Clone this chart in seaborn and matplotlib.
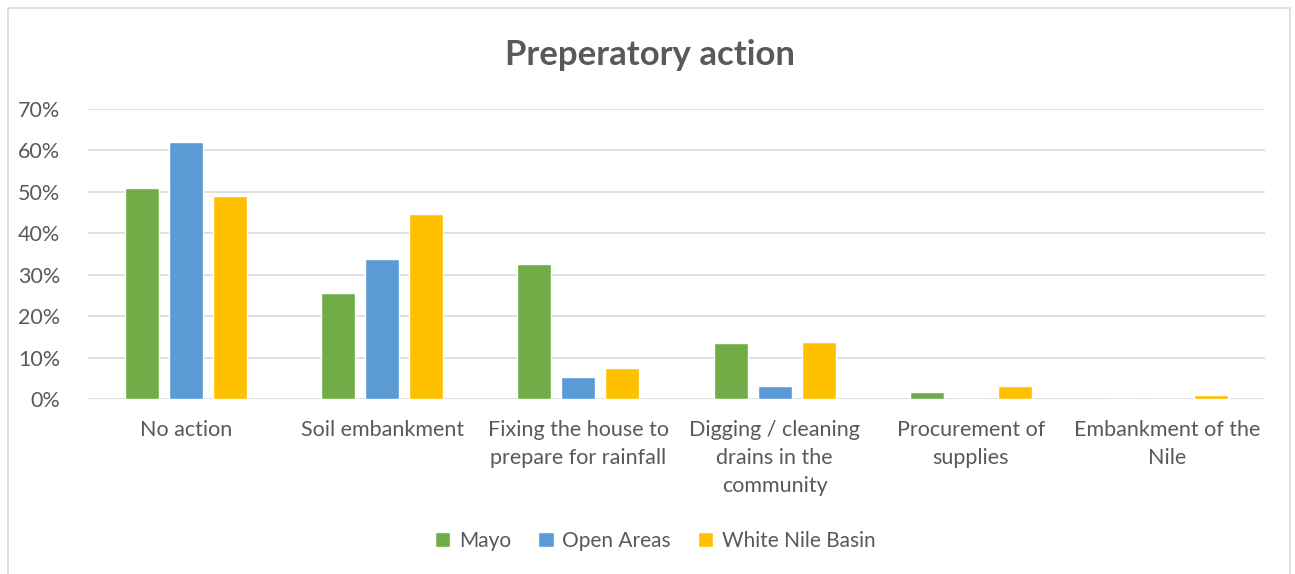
import matplotlib
matplotlib.use("Agg")
import matplotlib.pyplot as plt
import seaborn as sns
import pandas as pd
from matplotlib.patches import Rectangle
from matplotlib.ticker import FuncFormatter, MultipleLocator

categories = ["No action", "Soil embankment", "Fixing the house to\nprepare for rainfall",
              "Digging / cleaning\ndrains in the\ncommunity", "Procurement of\nsupplies",
              "Embankment of the\nNile"]
series = ["Mayo", "Open Areas", "White Nile Basin"]
mayo = [51.0, 25.5, 32.7, 13.5, 1.8, 0.0]
open_areas = [62.0, 33.7, 5.4, 3.1, 0.0, 0.0]
white_nile = [49.0, 44.7, 7.4, 13.7, 3.1, 1.0]
colors = ["#70AD47", "#5B9BD5", "#FFC000"]

rows = []
for s, vals in zip(series, [mayo, open_areas, white_nile]):
    for c, v in zip(categories, vals):
        rows.append({"cat": c, "series": s, "val": v})
df = pd.DataFrame(rows)

sns.set_theme(style="white")
plt.rcParams["font.family"] = ["Lato", "DejaVu Sans"]
txt = "#595959"

fig = plt.figure(figsize=(12.95, 5.74), dpi=100)
ax = fig.add_axes([88/1295, 1 - 399/574, (1265-88)/1295, (399-109)/574])
sns.barplot(data=df, x="cat", y="val", hue="series", order=categories,
            hue_order=series, palette=colors, width=0.673, gap=0.227,
            ax=ax, saturation=1, legend=True)

ax.set_ylim(0, 70)
ax.set_xlim(-0.5, len(categories) - 0.5)
ax.yaxis.set_major_locator(MultipleLocator(10))
ax.yaxis.set_major_formatter(FuncFormatter(lambda v, p: f"{v:.0f}%"))
ax.grid(axis="y", color="#D9D9D9", linewidth=1.2)
ax.set_axisbelow(True)
for sp in ax.spines.values():
    sp.set_visible(False)
ax.set_xlabel("")
ax.set_ylabel("")
ax.tick_params(axis="y", length=0, pad=20, labelsize=15.5, labelcolor=txt)
ax.tick_params(axis="x", length=0, pad=15, labelsize=15.5, labelcolor=txt)
for lbl in ax.get_xticklabels():
    lbl.set_linespacing(1.5)

h, l = ax.get_legend_handles_labels()
ax.legend_.remove()
fig.legend(h, l, loc="center", bbox_to_anchor=(655/1295, 1 - 541/574), ncol=3,
           frameon=False, fontsize=15, labelcolor=txt, handlelength=0.75,
           handleheight=0.75, handletextpad=0.4, columnspacing=1.3)

fig.text(650/1295, 1 - 55/574, "Preperatory action", ha="center", va="center",
         fontsize=25, fontweight="bold", color=txt)

fig.patches.append(Rectangle((8/1295, -0.01), (1290-8)/1295, 1 - 8/574 + 0.01,
                             transform=fig.transFigure, fill=False,
                             edgecolor="#D9D9D9", linewidth=1.2))

fig.savefig("out.png", dpi=100)
